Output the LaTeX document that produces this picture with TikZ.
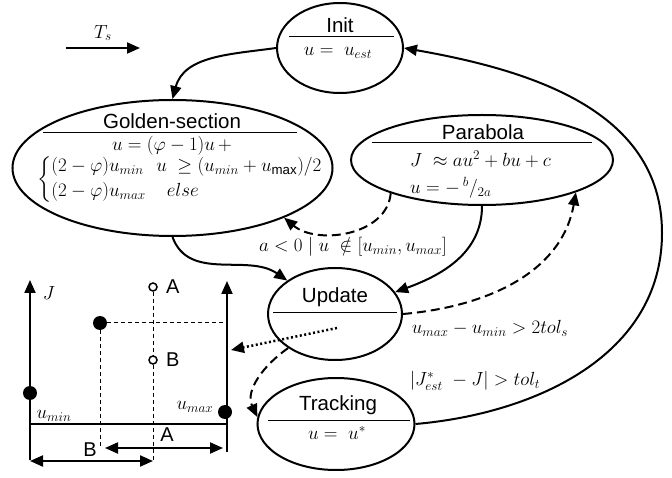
\RequirePackage{fix-cm}
\documentclass[tikz,border=0pt]{standalone}
\usepackage{amsmath,amssymb}
\usepackage{fontspec}
\setmainfont{Liberation Sans}
\usetikzlibrary{shapes.geometric,arrows.meta}
\begin{document}
\begin{tikzpicture}[x=1pt,y=1pt,
  st/.style={draw, ellipse, line width=2pt, inner sep=0pt},
  ttl/.style={font=\fontsize{20.5}{24}\selectfont, inner sep=0pt},
  mth/.style={font=\fontsize{19}{24}\selectfont, inner sep=0pt},
  divl/.style={line width=1pt},
  arr/.style={line width=2pt, -{Triangle[length=13pt,width=11pt]}},
  dsh/.style={arr, dash pattern=on 9pt off 5pt},
  dtt/.style={arr, dash pattern=on 2pt off 2.5pt, line width=2.5pt},
  axarr/.style={line width=2pt, -{Triangle[length=13pt,width=11pt]}},
  dimarr/.style={line width=2pt, {Triangle[length=13pt,width=11pt]}-{Triangle[length=13pt,width=11pt]}},
  thin dash/.style={line width=1pt, dash pattern=on 4pt off 3pt},
  fdot/.style={circle, fill=black, minimum size=14pt, inner sep=0pt},
  odot/.style={circle, draw, line width=1.5pt, fill=white, minimum size=8pt, inner sep=0pt},
  lbl/.style={font=\fontsize{20}{24}\selectfont, inner sep=0pt}
]
\useasboundingbox (0,0) rectangle (672,477);

% state ellipses
\node[st, minimum width=126pt, minimum height=90pt] (init) at (340,429) {};
\node[st, minimum width=320pt, minimum height=136pt] (golden) at (172.5,309) {};
\node[st, minimum width=262pt, minimum height=90pt] (parab) at (482,317) {};
\node[st, minimum width=134pt, minimum height=92pt] (update) at (335,163) {};
\node[st, minimum width=157pt, minimum height=92pt] (track) at (336,53) {};

% dividers
\draw[divl] (289,440) -- (394,440);
\draw[divl] (43,344) -- (297,344);
\draw[divl] (372,334) -- (592,334);
\draw[divl] (273,164) -- (397,164);
\draw[divl] (268,57) -- (410,57);

% texts
\node[ttl] (init-t) at (340,452) {Init};
\node[mth] (init-f) at (338,424) {$u =\ u_{est}$};
\node[ttl] (golden-t) at (172,356) {Golden-section};
\node[mth] (golden-f) at (172,331) {$u = (\varphi - 1)u\, +$};
\node[mth, font=\fontsize{19}{25}\selectfont, anchor=west] (golden-c) at (37,297.5) {$\left\{\begin{array}{@{}l@{\ \;}l@{}}(2-\varphi)u_{min} & u\ \geq (u_{min}+u_{\max})/2\\ (2-\varphi)u_{max} & \ \ else\end{array}\right.$};
\node[ttl] (parab-t) at (483,345) {Parabola};
\node[mth, anchor=west] (parab-f1) at (410,318) {$J\ \approx au^2+bu+c$};
\node[mth, anchor=west] (parab-f2) at (410,289) {$u = -\,{}^{b}/_{2a}$};
\node[ttl] (update-t) at (335,180) {Update};
\node[ttl] (track-t) at (338,72) {Tracking};
\node[mth] (track-f) at (337,44) {$u =\ u^{*}$};

% edge labels
\node[mth] (l-a) at (353,230) {$a<0 \mid u\ \notin [u_{min},u_{max}]$};
\node[mth] (l-tols) at (490,149) {$u_{max}-u_{min} > 2tol_s$};
\node[mth] (l-tolt) at (475,96) {$|J^{*}_{est}\ - J| > tol_t$};

% Ts arrow
\coordinate (ts-a) at (66,429);
\coordinate (ts-b) at (140,429);
\draw[arr] (ts-a) -- (ts-b);
\node[mth] (ts-l) at (103,444) {$T_s$};

% transitions
\draw[arr] (init.west) to[out=188,in=75] (golden.north);
\draw[arr] (golden.south) to[out=-70,in=145] (update.145);
\draw[arr] (parab.south) to[out=-90,in=20] (update.20);
\draw[dsh] (parab.200) to[out=-95,in=-40] (golden.-24);
\draw[dsh] (update.east) to[out=5,in=-100] (parab.-19);
\draw[dsh] (update.216) to[out=215,in=115] (track.175);
\coordinate (dot-s) at (337,149);
\coordinate (dot-e) at (231,127);
\draw[dtt] (dot-s) -- (dot-e);
\coordinate (rw) at (662,244);
\draw[line width=2pt] (track.east) to[out=5,in=-90] (rw);
\draw[arr] (rw) to[out=90,in=-10] (init.east);

% graph
\coordinate (ax1-b) at (30,17);
\coordinate (ax1-t) at (30,197);
\coordinate (ax2-b) at (227,25);
\coordinate (ax2-t) at (227,196);
\draw[axarr] (ax1-b) -- (ax1-t);
\draw[axarr] (ax2-b) -- (ax2-t);
\coordinate (hl-a) at (30,53);
\coordinate (hl-b) at (227,53);
\draw[line width=2pt] (hl-a) -- (hl-b);
\node[mth] (j-l) at (49,184) {$J$};
\node[mth] (umin-l) at (54,61) {$u_{min}$};
\node[mth] (umax-l) at (195,70) {$u_{max}$};
\coordinate (hd-b) at (227,154);
\coordinate (vd1-b) at (100,30);
\coordinate (vd2-b) at (153,17);
\node[fdot] (d-mid) at (100,154) {};
\draw[thin dash] (d-mid) -- (hd-b);
\draw[thin dash] (d-mid) -- (vd1-b);
\node[odot] (oa) at (153,190) {};
\node[odot] (ob) at (153,117) {};
\draw[thin dash] (oa) -- (ob);
\draw[thin dash] (ob) -- (vd2-b);
\node[lbl, anchor=west] (oa-l) at (166,190) {A};
\node[lbl, anchor=west] (ob-l) at (166,117) {B};
\node[fdot] (d-left) at (30,84) {};
\node[fdot] (d-right) at (225,65) {};
\coordinate (da-a) at (105,29);
\coordinate (da-b) at (223,29);
\draw[dimarr] (da-a) -- (da-b);
\node[lbl] (da-l) at (167,42) {A};
\coordinate (db-a) at (30,16);
\coordinate (db-b) at (153,16);
\draw[dimarr] (db-a) -- (db-b);
\node[lbl] (db-l) at (90,27) {B};
\end{tikzpicture}
\end{document}
